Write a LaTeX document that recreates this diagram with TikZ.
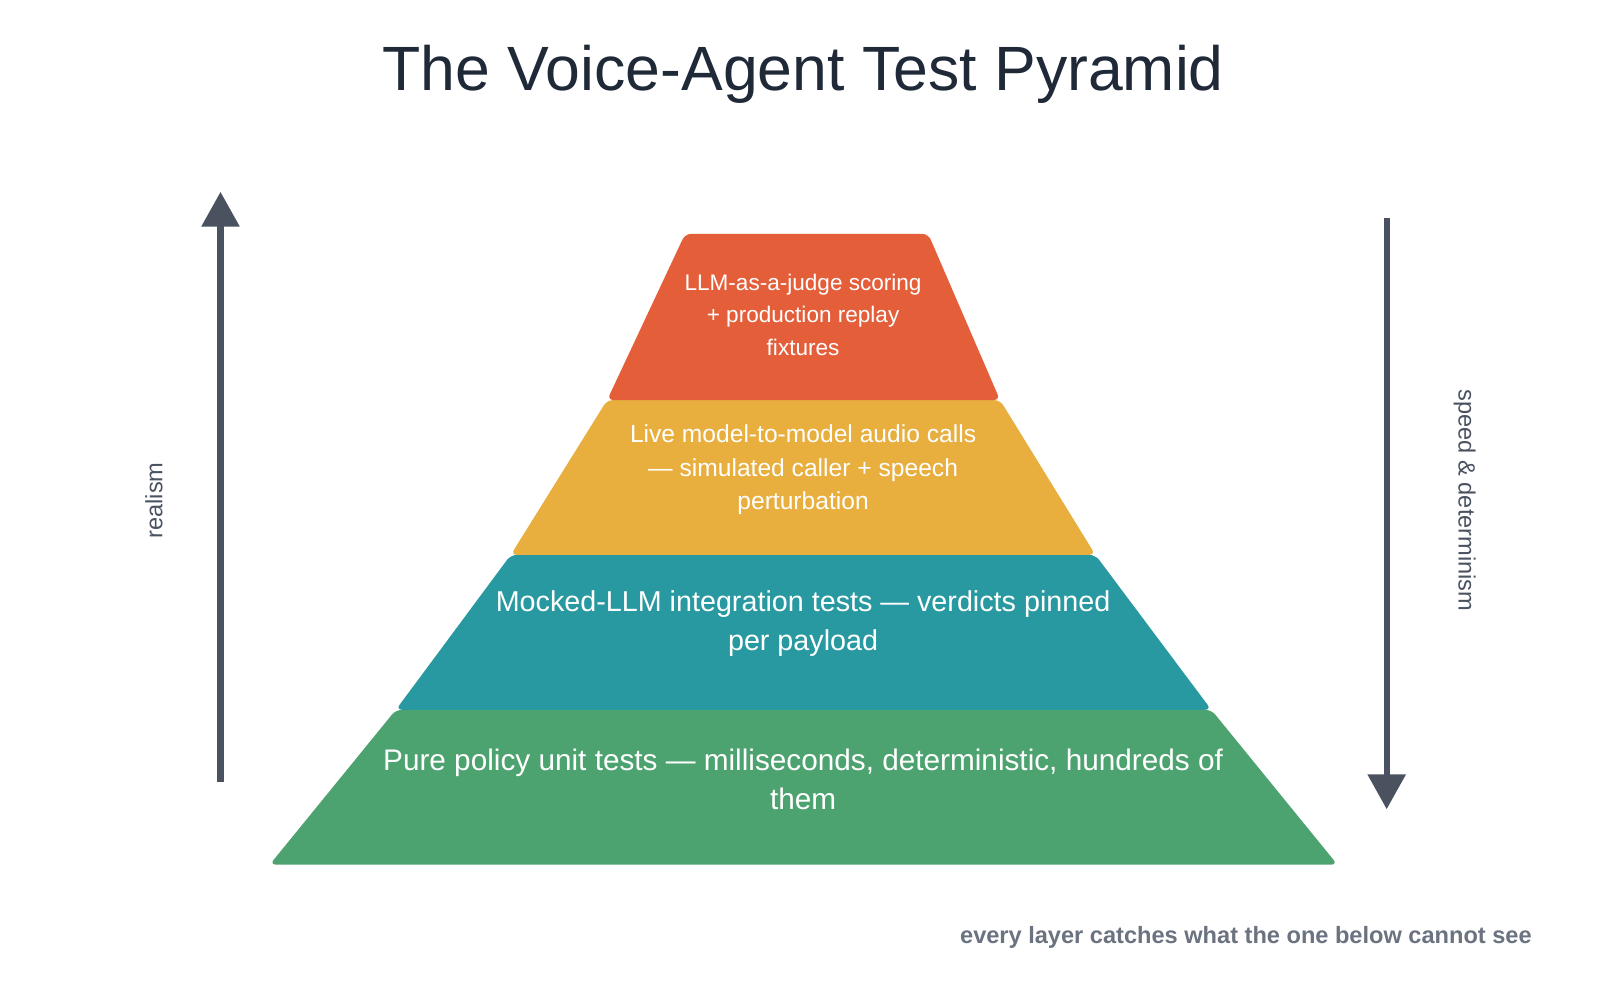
\documentclass[tikz,border=0pt]{standalone}
\usepackage{fontspec}
\setmainfont{Liberation Sans}
\usetikzlibrary{arrows.meta}
\definecolor{cred}{HTML}{E45E3A}
\definecolor{cyel}{HTML}{E8AE3E}
\definecolor{cteal}{HTML}{2899A0}
\definecolor{cgreen}{HTML}{4DA370}
\definecolor{carrow}{HTML}{4A5260}
\definecolor{ctitle}{HTML}{1F2937}
\definecolor{cfoot}{HTML}{6B7280}
\begin{document}
\begin{tikzpicture}[x=1pt,y=-1pt,
  layer/.style={rounded corners=6pt},
  ltext/.style={text=white,align=center},
  axis/.style={draw=carrow,line width=6pt,-{Triangle[length=34pt,width=36pt]}}]
\useasboundingbox[fill=white] (0,0) rectangle (1560,975);
\node[text=ctitle,font=\fontsize{61}{72}\selectfont] (title) at (783,72) {The Voice-Agent Test Pyramid};
\fill[cgreen,layer] (386,692) -- (1181,692) -- (1304,843) -- (263,843) -- cycle;
\fill[cteal,layer] (498,541) -- (1068,541) -- (1181,692) -- (386,692) -- cycle;
\fill[cyel,layer] (592,390) -- (975,390) -- (1068,541) -- (498,541) -- cycle;
\fill[cred,layer] (668,228) -- (905,228) -- (975,390) -- (592,390) -- cycle;
\node[ltext,font=\fontsize{22}{32}\selectfont] (t1) at (783,307) {LLM-as-a-judge scoring\\+ production replay\\fixtures};
\node[ltext,font=\fontsize{24}{33}\selectfont] (t2) at (783,458) {Live model-to-model audio calls\\— simulated caller + speech\\perturbation};
\node[ltext,font=\fontsize{28}{38}\selectfont] (t3) at (783,608) {Mocked-LLM integration tests — verdicts pinned\\per payload};
\node[ltext,font=\fontsize{29}{38}\selectfont] (t4) at (783,760) {Pure policy unit tests — milliseconds, deterministic, hundreds of\\them};
\coordinate (l0) at (215,762); \coordinate (l1) at (215,187);
\draw[axis] (l0) -- (l1);
\coordinate (r0) at (1352,213); \coordinate (r1) at (1352,789);
\draw[axis] (r0) -- (r1);
\node[rotate=90,text=carrow,font=\fontsize{23}{25}\selectfont] (realism) at (150,488) {realism};
\node[rotate=-90,text=carrow,font=\fontsize{23}{25}\selectfont] (speed) at (1428,488) {speed \& determinism};
\node[anchor=east,text=cfoot,font=\bfseries\fontsize{23}{26}\selectfont] (foot) at (1497,914) {every layer catches what the one below cannot see};
\end{tikzpicture}
\end{document}
